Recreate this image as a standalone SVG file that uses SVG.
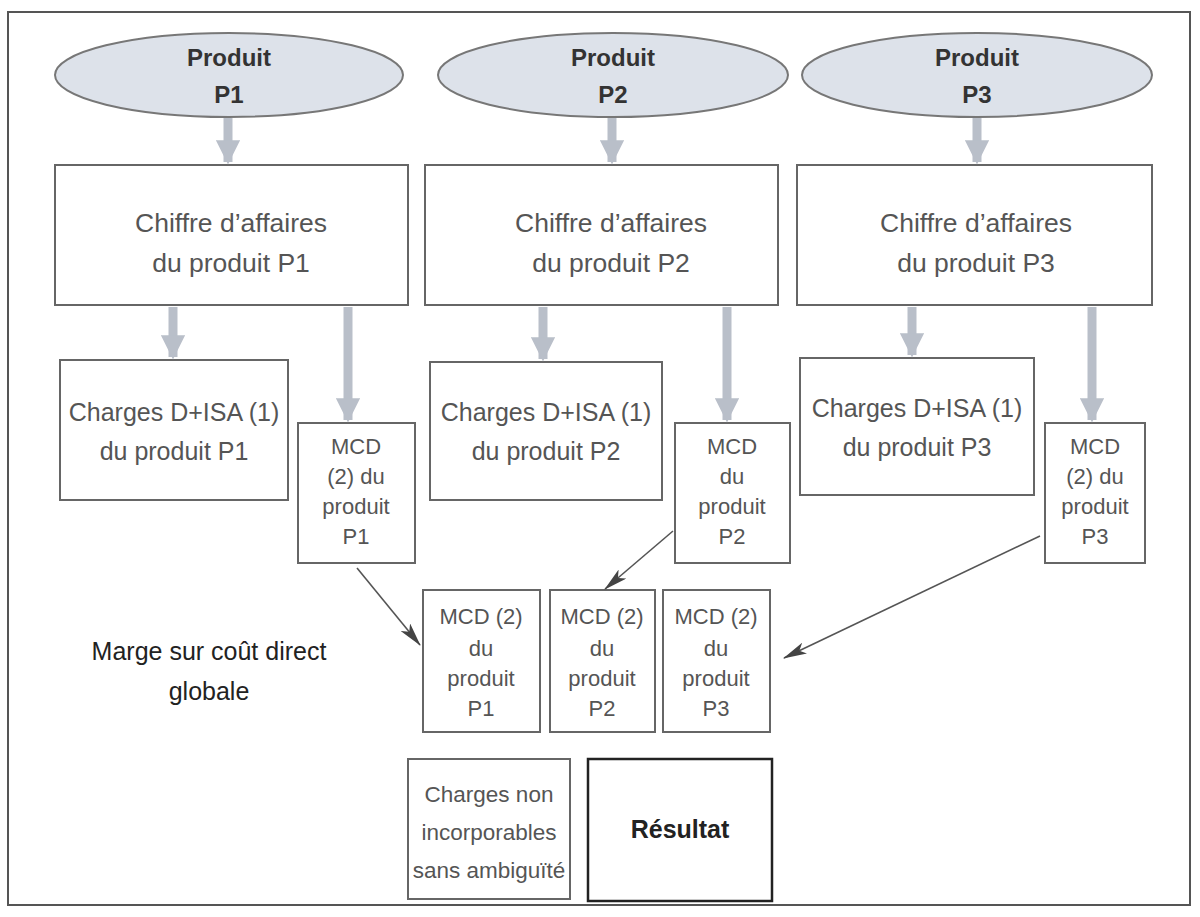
<svg xmlns="http://www.w3.org/2000/svg" width="1200" height="917" viewBox="0 0 1200 917">
<defs>
<style>
.frame{fill:#fff;stroke:#555;stroke-width:2}
.box{fill:#fff;stroke:#666;stroke-width:2}
.bold{fill:none;stroke:#222;stroke-width:2.5}
.ell{fill:#dde2ea;stroke:#777;stroke-width:2}
text{font-family:"Liberation Sans","DejaVu Sans",sans-serif;text-anchor:middle;fill:#555}
.t{font-size:25px}
.c{font-size:26.5px}
.n{font-size:22.5px}
.s{font-size:22px}
.h{font-size:24px;font-weight:bold;fill:#333}
.thick{stroke:#b9bfc9;stroke-width:9;fill:none}
.thin{stroke:#555;stroke-width:1.6;fill:none;marker-end:url(#ah)}
</style>
<marker id="ah" viewBox="0 0 24 12" refX="23" refY="6" markerWidth="24" markerHeight="12" markerUnits="userSpaceOnUse" orient="auto">
<path d="M0,0 L24,6 L0,12 L6,6 Z" fill="#444"/>
</marker>
<marker id="gh" viewBox="0 0 10 10" refX="9" refY="5" markerWidth="3.2" markerHeight="2.7" orient="auto">
<path d="M0,0 L10,5 L0,10 Z" fill="#b9bfc9"/>
</marker>
</defs>
<rect x="0" y="0" width="1200" height="917" fill="#fff"/>
<rect class="frame" x="8" y="12" width="1182" height="893"/>

<g id="p1"><ellipse class="ell" cx="229" cy="75" rx="174" ry="42"/><text class="h" x="229" y="66">Produit</text><text class="h" x="229" y="103">P1</text></g>
<g id="p2"><ellipse class="ell" cx="613" cy="75" rx="175" ry="42"/><text class="h" x="613" y="66">Produit</text><text class="h" x="613" y="103">P2</text></g>
<g id="p3"><ellipse class="ell" cx="977" cy="75" rx="175" ry="42"/><text class="h" x="977" y="66">Produit</text><text class="h" x="977" y="103">P3</text></g>

<g id="ca1"><rect class="box" x="55" y="165" width="353" height="140"/><text class="c" x="231" y="232">Chiffre d’affaires</text><text class="c" x="231" y="272">du produit P1</text></g>
<g id="ca2"><rect class="box" x="425" y="165" width="353" height="140"/><text class="c" x="611" y="232">Chiffre d’affaires</text><text class="c" x="611" y="272">du produit P2</text></g>
<g id="ca3"><rect class="box" x="797" y="165" width="355" height="140"/><text class="c" x="976" y="232">Chiffre d’affaires</text><text class="c" x="976" y="272">du produit P3</text></g>

<g id="ch1"><rect class="box" x="60" y="360" width="228" height="140"/><text class="t" x="174" y="421">Charges D+ISA (1)</text><text class="t" x="174" y="460">du produit P1</text></g>
<g id="ch2"><rect class="box" x="430" y="362" width="232" height="138"/><text class="t" x="546" y="421">Charges D+ISA (1)</text><text class="t" x="546" y="460">du produit P2</text></g>
<g id="ch3"><rect class="box" x="800" y="358" width="234" height="137"/><text class="t" x="917" y="417">Charges D+ISA (1)</text><text class="t" x="917" y="456">du produit P3</text></g>

<g id="m1"><rect class="box" x="298" y="423" width="117" height="140"/><text class="s" x="356" y="454">MCD</text><text class="s" x="356" y="484">(2) du</text><text class="s" x="356" y="514">produit</text><text class="s" x="356" y="544">P1</text></g>
<g id="m2"><rect class="box" x="675" y="423" width="115" height="140"/><text class="s" x="732" y="454">MCD</text><text class="s" x="732" y="484">du</text><text class="s" x="732" y="514">produit</text><text class="s" x="732" y="544">P2</text></g>
<g id="m3"><rect class="box" x="1045" y="423" width="100" height="140"/><text class="s" x="1095" y="454">MCD</text><text class="s" x="1095" y="484">(2) du</text><text class="s" x="1095" y="514">produit</text><text class="s" x="1095" y="544">P3</text></g>

<g id="g1"><rect class="box" x="423" y="590" width="117" height="142"/><text class="s" x="481" y="624">MCD (2)</text><text class="s" x="481" y="656">du</text><text class="s" x="481" y="686">produit</text><text class="s" x="481" y="716">P1</text></g>
<g id="g2"><rect class="box" x="550" y="590" width="105" height="142"/><text class="s" x="602" y="624">MCD (2)</text><text class="s" x="602" y="656">du</text><text class="s" x="602" y="686">produit</text><text class="s" x="602" y="716">P2</text></g>
<g id="g3"><rect class="box" x="663" y="590" width="107" height="142"/><text class="s" x="716" y="624">MCD (2)</text><text class="s" x="716" y="656">du</text><text class="s" x="716" y="686">produit</text><text class="s" x="716" y="716">P3</text></g>

<g id="marge"><text class="t" x="209" y="660" style="fill:#222">Marge sur coût direct</text><text class="t" x="209" y="700" style="fill:#222">globale</text></g>

<g id="cni"><rect class="box" x="408" y="759" width="162" height="140"/><text class="n" x="489" y="802">Charges non</text><text class="n" x="489" y="840">incorporables</text><text class="n" x="489" y="878">sans ambiguïté</text></g>
<g id="res"><rect class="bold" x="588" y="759" width="184" height="142"/><text class="t" x="680" y="838" style="font-weight:bold;fill:#222">Résultat</text></g>

<g id="connectors">
<line class="thick" x1="228" y1="118" x2="228" y2="162" marker-end="url(#gh)"/>
<line class="thick" x1="612" y1="118" x2="612" y2="162" marker-end="url(#gh)"/>
<line class="thick" x1="977" y1="118" x2="977" y2="162" marker-end="url(#gh)"/>
<line class="thick" x1="173" y1="307" x2="173" y2="357" marker-end="url(#gh)"/>
<line class="thick" x1="348" y1="307" x2="348" y2="420" marker-end="url(#gh)"/>
<line class="thick" x1="543" y1="307" x2="543" y2="359" marker-end="url(#gh)"/>
<line class="thick" x1="727" y1="307" x2="727" y2="420" marker-end="url(#gh)"/>
<line class="thick" x1="912" y1="307" x2="912" y2="355" marker-end="url(#gh)"/>
<line class="thick" x1="1092" y1="307" x2="1092" y2="420" marker-end="url(#gh)"/>
<line class="thin" x1="357" y1="568" x2="420" y2="645"/>
<line class="thin" x1="673" y1="531" x2="605" y2="589"/>
<line class="thin" x1="1040" y1="536" x2="784" y2="658"/>
</g>
</svg>
